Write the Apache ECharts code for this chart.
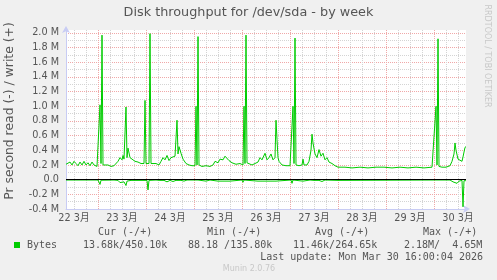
<!DOCTYPE html>
<html><head><meta charset="utf-8">
<script src="https://cdn.jsdelivr.net/npm/echarts@6/dist/echarts.min.js"></script>
<style>html,body{margin:0;padding:0;background:#f0f0f0;}#c{width:497px;height:280px;}</style>
</head><body><div id="c"></div>
<script>
const titleText = 'Disk throughput for /dev/sda - by week';
const yAxisTitle = 'Pr second read (-) / write (+)';
const dayLabels = ['22 3月', '23 3月', '24 3月', '25 3月', '26 3月', '27 3月', '28 3月', '29 3月', '30 3月'];
// hours since 22 Mar 00:00
const writeHours = [8, 9, 10, 11, 12, 13, 14, 15, 16, 17, 18, 19, 20, 21, 22, 23, 23.5, 24.5, 25, 25.5, 26, 26.5, 27.5, 29, 30.5, 32, 33, 34, 35, 36, 36.5, 37, 37.5, 38, 38.5, 39, 40, 41, 42.5, 44, 45.5, 47, 47.5, 48, 49.5, 50, 50.5, 51.5, 53, 54.5, 55.5, 56.5, 57.5, 58.5, 59.5, 60.5, 61.5, 62.5, 63.5, 64, 64.5, 65.5, 66.5, 68, 69.5, 71, 72.5, 73, 73.5, 74, 74.5, 76, 78, 80, 81.5, 82.5, 84, 85, 86.5, 87.5, 88.5, 89.5, 91, 93, 95, 96.5, 97, 97.5, 98, 98.5, 99.5, 101, 102.5, 104, 105, 106, 107.5, 108.5, 109.5, 110.5, 111.5, 112.5, 113, 113.5, 114, 114.5, 116, 118, 120, 121, 121.5, 122, 122.5, 123, 124.5, 126, 126.5, 127, 128.5, 129.5, 130.5, 131, 131.5, 132.5, 133.5, 134.5, 135.5, 136.5, 137.5, 138.5, 139.5, 141, 142.5, 144, 147.5, 151, 155, 159, 163, 167, 171, 175, 179, 183, 187, 191, 192, 193, 193.5, 194, 194.5, 196, 198, 200, 201, 202, 202.5, 203, 204, 205, 206, 206.5, 207.5, 208];
const writeMB = [0.21, 0.19, 0.24, 0.2, 0.25, 0.22, 0.19, 0.24, 0.2, 0.25, 0.2, 0.23, 0.19, 0.24, 0.2, 0.2, 0.18, 0.18, 1.02, 0.22, 1.97, 0.2, 0.19, 0.2, 0.18, 0.19, 0.17, 0.25, 0.3, 0.27, 0.33, 0.28, 0.3, 0.99, 0.3, 0.43, 0.3, 0.28, 0.25, 0.24, 0.22, 0.22, 1.08, 0.22, 0.22, 1.99, 0.22, 0.21, 0.22, 0.2, 0.25, 0.3, 0.27, 0.33, 0.26, 0.3, 0.28, 0.32, 0.81, 0.35, 0.45, 0.36, 0.28, 0.22, 0.2, 0.19, 0.19, 1.0, 0.2, 1.95, 0.2, 0.18, 0.19, 0.18, 0.2, 0.25, 0.23, 0.28, 0.27, 0.32, 0.3, 0.26, 0.23, 0.21, 0.22, 0.2, 1.0, 0.22, 1.97, 0.23, 0.22, 0.2, 0.22, 0.24, 0.3, 0.27, 0.36, 0.27, 0.3, 0.35, 0.27, 0.3, 0.81, 0.55, 0.3, 0.25, 0.2, 0.19, 0.19, 0.19, 1.0, 0.22, 1.93, 0.2, 0.19, 0.2, 0.28, 0.2, 0.2, 0.25, 0.4, 0.62, 0.5, 0.35, 0.3, 0.41, 0.32, 0.36, 0.27, 0.3, 0.24, 0.22, 0.19, 0.17, 0.17, 0.16, 0.17, 0.16, 0.17, 0.17, 0.16, 0.17, 0.16, 0.17, 0.16, 0.17, 0.17, 1.0, 0.2, 1.92, 0.18, 0.17, 0.17, 0.19, 0.25, 0.35, 0.5, 0.4, 0.28, 0.26, 0.25, 0.31, 0.44, 0.45];
const readHours = [8, 24, 24.5, 25, 25.5, 32, 33, 34, 35, 36, 37, 37.5, 38, 38.5, 39.5, 40.5, 48.5, 49, 49.5, 53, 53.5, 55, 56, 57, 58.5, 60, 61.5, 63, 64, 65.5, 67, 68.5, 72, 73, 74, 78, 80, 84, 85, 90, 91, 96, 96.5, 97, 104, 105, 110, 111, 113, 114, 120.5, 121, 121.5, 126.5, 127, 130, 131, 132, 133, 134.5, 136, 137.5, 144, 145, 193, 193.5, 194, 200, 201.5, 202.5, 203.5, 204.5, 205.5, 206, 206.5, 207, 208];
const readMB = [-0.005, -0.005, -0.01, -0.065, -0.008, -0.005, -0.03, -0.01, -0.04, -0.015, -0.03, -0.01, -0.08, -0.02, -0.035, -0.01, -0.01, -0.14, -0.01, -0.005, -0.025, -0.01, -0.02, -0.01, -0.03, -0.01, -0.025, -0.01, -0.03, -0.01, -0.02, -0.005, -0.005, -0.02, -0.005, -0.02, -0.005, -0.02, -0.005, -0.02, -0.005, -0.005, -0.035, -0.005, -0.02, -0.005, -0.02, -0.005, -0.02, -0.005, -0.005, -0.05, -0.005, -0.02, -0.005, -0.005, -0.03, -0.01, -0.03, -0.01, -0.025, -0.005, -0.01, -0.005, -0.005, -0.02, -0.005, -0.005, -0.03, -0.01, -0.05, -0.02, -0.04, -0.01, -0.37, -0.014, -0.014];
const legendName = 'Bytes';
const statHeaders = ['Cur (-/+)', 'Min (-/+)', 'Avg (-/+)', 'Max (-/+)'];
const statValues = ['13.68k/450.10k', '88.18 /135.80k', '11.46k/264.65k', '2.18M/  4.65M'];
const lastUpdate = 'Last update: Mon Mar 30 16:00:04 2026';
const footerText = 'Munin 2.0.76';
const sideText = 'RRDTOOL / TOBI OETIKER';

const GREEN = '#00cc00';
const SANS = '"DejaVu Sans", "Noto Sans CJK JP", sans-serif';
const MONO = '"DejaVu Sans Mono", monospace';
const MAJOR = '#f0a8a8', MINOR = '#d4d4d4', NONE = 'rgba(0,0,0,0)';

const xMin = 8, xMax = 208, xStep = 2;
const xColors = [];
for (let h = xMin; h <= xMax; h += xStep) {
  xColors.push(h % 24 === 0 ? MAJOR : (h % 6 === 0 ? MINOR : NONE));
}
const yMin = -0.4, yMax = 2.04, yStep = 0.1;
const yColors = [];
for (let i = 0; i < 26; i++) yColors.push(i === 25 ? NONE : (i % 2 === 0 ? MAJOR : MINOR));

function zip(a, b) { return a.map((v, i) => [v, b[i]]); }

const chart = echarts.init(document.getElementById('c'), null, {renderer: 'canvas'});
const headerX = [98, 207, 315, 423];
const valueX = [83, 188, 293, 404];
const graphics = [
  {type: 'text', left: 'center', top: 6, style: {text: titleText, font: '12.8px ' + SANS, fill: '#555'}},
  {type: 'text', x: 10, y: 111, rotation: Math.PI / 2, style: {text: yAxisTitle, font: '12.4px ' + SANS, fill: '#555', align: 'center', verticalAlign: 'middle'}},
  {type: 'text', x: 487, y: 56, rotation: -Math.PI / 2, style: {text: sideText, font: '8px ' + SANS, fill: '#c8c8c8', align: 'center', verticalAlign: 'middle'}},
  {type: 'rect', shape: {x: 14, y: 242, width: 6, height: 6}, style: {fill: GREEN}},
  {type: 'text', x: 27, y: 245, style: {text: legendName, font: '10px ' + MONO, fill: '#555', verticalAlign: 'middle'}},
  {type: 'text', x: 483, y: 257, style: {text: lastUpdate, font: '10px ' + MONO, fill: '#555', align: 'right', verticalAlign: 'middle'}},
  {type: 'text', x: 249, y: 269, style: {text: footerText, font: '8px ' + SANS, fill: '#c8c8c8', align: 'center', verticalAlign: 'middle'}}
];
statHeaders.forEach((t, i) => graphics.push({type: 'text', x: headerX[i], y: 232, style: {text: t, font: '10px ' + MONO, fill: '#555', verticalAlign: 'middle'}}));
statValues.forEach((t, i) => graphics.push({type: 'text', x: valueX[i], y: 245, style: {text: t, font: '10px ' + MONO, fill: '#555', verticalAlign: 'middle'}}));

chart.setOption({
  backgroundColor: '#f0f0f0',
  animation: false,
  grid: {left: 66, top: 30, width: 400, height: 179, show: true, backgroundColor: '#ffffff', borderWidth: 0, containLabel: false, outerBoundsMode: 'none'},
  xAxis: {
    type: 'value', min: xMin, max: xMax, interval: xStep, position: 'bottom',
    axisLine: {onZero: false, lineStyle: {color: '#c8ccf4', width: 1}, symbol: ['none', 'arrow'], symbolSize: [6, 7], symbolOffset: [0, 4]},
    axisTick: {show: false},
    axisLabel: {margin: 5, color: '#555', fontSize: 9.7, fontFamily: SANS,
      formatter: v => (Math.round(v) % 24 === 12 ? dayLabels[Math.floor(v / 24)] : '')},
    splitLine: {show: true, lineStyle: {color: xColors, type: 'dotted', width: 1}}
  },
  yAxis: {
    type: 'value', min: yMin, max: yMax, interval: yStep,
    axisLine: {show: true, onZero: false, lineStyle: {color: '#c8ccf4', width: 1}, symbol: ['none', 'arrow'], symbolSize: [6, 7], symbolOffset: [0, 4]},
    axisTick: {show: false},
    axisLabel: {margin: 7, color: '#555', fontSize: 9.7, fontFamily: SANS,
      formatter: v => {
        const t = v * 10, r = Math.round(t);
        if (Math.abs(t - r) > 1e-6 || r % 2 !== 0) return '';
        if (r === 0) return '0.0';
        return (r / 10).toFixed(1) + ' M';
      }},
    splitLine: {show: true, lineStyle: {color: yColors, type: 'dotted', width: 1}}
  },
  series: [
    {name: 'write', type: 'line', data: zip(writeHours, writeMB), symbol: 'none', lineStyle: {color: GREEN, width: 1}, itemStyle: {color: GREEN}, z: 3},
    {name: 'read', type: 'line', data: zip(readHours, readMB), symbol: 'none', lineStyle: {color: GREEN, width: 1}, itemStyle: {color: GREEN}, z: 3,
      markLine: {silent: true, symbol: ['none', 'none'], label: {show: false}, lineStyle: {color: '#000', type: 'solid', width: 1}, data: [{yAxis: 0}], z: 5}}
  ],
  graphic: graphics
});
</script></body></html>
